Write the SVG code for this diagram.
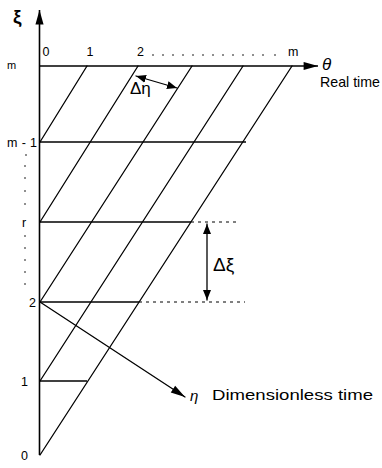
<svg xmlns="http://www.w3.org/2000/svg" width="382" height="468" viewBox="0 0 382 468">
<style>
.ln{stroke:#000;stroke-width:1.3;fill:none;stroke-linecap:round}
.hz{stroke:#000;stroke-width:1.6;fill:none}
.dt{stroke:#000;stroke-width:1;fill:none;stroke-dasharray:3 4}
.t{font-family:"Liberation Sans",Arial,sans-serif;fill:#000}
.dot{fill:#000}
</style>
<defs>
<marker id="ah" viewBox="0 0 10 10" refX="10" refY="5" markerWidth="10" markerHeight="10" markerUnits="userSpaceOnUse" orient="auto-start-reverse">
<path d="M0,1 L10,5 L0,9 Z" fill="#000"/>
</marker>
<marker id="ahL" viewBox="0 0 16 10" refX="16" refY="5" markerWidth="15" markerHeight="9" markerUnits="userSpaceOnUse" orient="auto">
<path d="M0,0.5 L16,5 L0,9.5 Z" fill="#000"/>
</marker>
</defs>

<g id="axes">
<line class="hz" x1="39.5" y1="455" x2="39.5" y2="10" marker-end="url(#ahL)"/>
<line class="hz" x1="39.5" y1="66" x2="318" y2="66" stroke-width="2" marker-end="url(#ahL)"/>
</g>

<g id="levels">
<line class="hz" x1="39.5" y1="142" x2="246" y2="142"/>
<line class="hz" x1="39.5" y1="222" x2="191" y2="222"/>
<line class="dt" x1="191" y1="222" x2="239" y2="222"/>
<line class="hz" x1="39.5" y1="302" x2="139" y2="302"/>
<line class="dt" x1="139" y1="302" x2="245" y2="302"/>
<line class="hz" x1="39.5" y1="381" x2="87" y2="381"/>
</g>

<g id="characteristics">
<line class="ln" x1="40" y1="455" x2="292" y2="66"/>
<line class="ln" x1="40" y1="381" x2="243" y2="66"/>
<line class="ln" x1="40" y1="302" x2="192" y2="66"/>
<line class="ln" x1="40" y1="222" x2="138" y2="66"/>
<line class="ln" x1="40" y1="142" x2="87" y2="66"/>
</g>

<g id="connectors">
<line class="ln" x1="136" y1="76" x2="177" y2="88" marker-start="url(#ah)" marker-end="url(#ah)" stroke-width="1.5"/>
<line class="ln" x1="207" y1="224" x2="207" y2="300" marker-start="url(#ah)" marker-end="url(#ah)" stroke-width="1.2"/>
<line class="ln" x1="40" y1="302" x2="185" y2="397" marker-end="url(#ahL)" stroke-width="1.6"/>
</g>

<g id="axis-labels">
<text class="t" x="13" y="23" font-size="19" font-weight="bold">ξ</text>
<text class="t" x="322" y="70" font-size="17" font-style="italic">θ</text>
<text class="t" x="320" y="87" font-size="14.5" textLength="60" lengthAdjust="spacingAndGlyphs">Real time</text>
<text class="t" x="190" y="401" font-size="15" font-style="italic">η</text>
<text class="t" x="212" y="400" font-size="14.5" textLength="161" lengthAdjust="spacingAndGlyphs">Dimensionless time</text>
</g>

<g id="top-labels" class="t" font-size="12.5">
<text x="42.5" y="56">0</text>
<text x="86.5" y="56">1</text>
<text x="137" y="56">2</text>
<text x="288" y="56">m</text>
</g>
<g id="top-dots" class="dot">
<circle cx="153" cy="55" r="0.8"/><circle cx="163" cy="55" r="0.8"/><circle cx="173" cy="55" r="0.8"/><circle cx="183" cy="55" r="0.8"/><circle cx="193" cy="55" r="0.8"/><circle cx="203" cy="55" r="0.8"/><circle cx="213" cy="55" r="0.8"/><circle cx="223" cy="55" r="0.8"/><circle cx="233" cy="55" r="0.8"/><circle cx="243" cy="55" r="0.8"/><circle cx="253" cy="55" r="0.8"/><circle cx="263" cy="55" r="0.8"/><circle cx="275" cy="55" r="0.8"/>
</g>

<g id="left-labels" class="t" font-size="12.5">
<text x="7" y="69" font-size="11">m</text>
<text x="7" y="147" textLength="30" lengthAdjust="spacing">m-1</text>
<text x="22" y="227">r</text>
<text x="29" y="307">2</text>
<text x="21" y="386">1</text>
<text x="21" y="460">0</text>
</g>
<g id="left-dots" class="dot">
<circle cx="26" cy="155" r="0.8"/><circle cx="25" cy="166" r="0.8"/><circle cx="25" cy="178" r="0.8"/><circle cx="25" cy="191" r="0.8"/><circle cx="25" cy="204" r="0.8"/>
<circle cx="25" cy="236" r="0.8"/><circle cx="25" cy="248" r="0.8"/><circle cx="25" cy="260" r="0.8"/><circle cx="25" cy="272" r="0.8"/><circle cx="25" cy="284" r="0.8"/>
</g>

<g id="deltas">
<text class="t" x="130" y="94" font-size="17">Δη</text>
<text class="t" x="213" y="271" font-size="19">Δξ</text>
</g>
</svg>
